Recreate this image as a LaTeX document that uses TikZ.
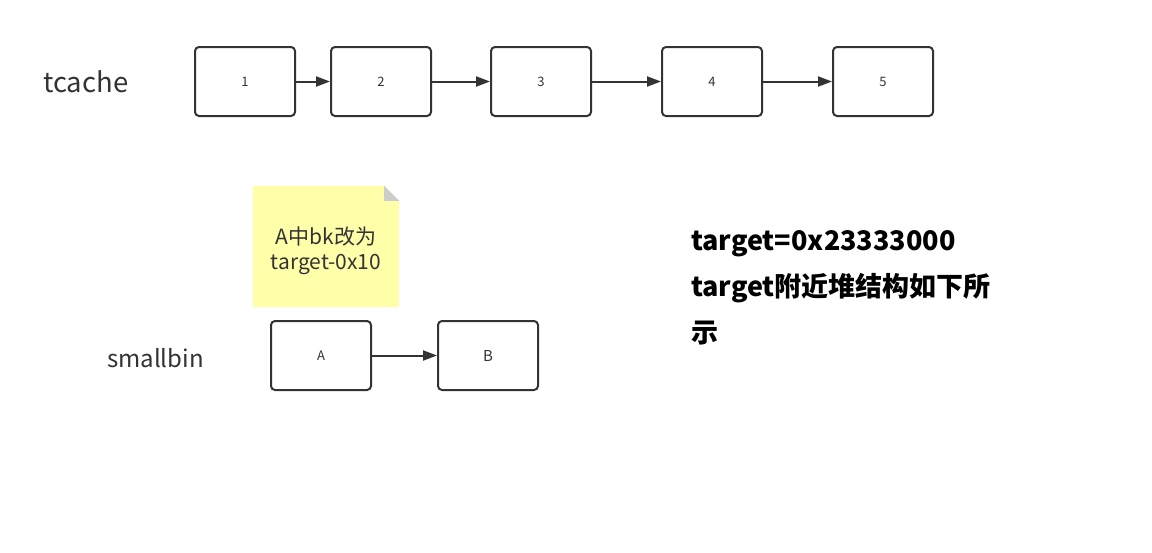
\documentclass[tikz,border=0pt]{standalone}
\usepackage{fontspec}
\setmainfont{Noto Sans CJK SC}
\usetikzlibrary{arrows.meta}
\definecolor{ink}{HTML}{333333}
\definecolor{notey}{HTML}{FFFFAA}
\definecolor{fold}{HTML}{CCCCCC}
\begin{document}
\begin{tikzpicture}[x=1pt,y=-1pt,
  chunk/.style={draw=ink,line width=2pt,rounded corners=4pt,minimum width=100pt,minimum height=69pt,inner sep=0pt,font=\fontsize{13}{15}\selectfont,text=ink},
  link/.style={draw=ink,line width=2pt,-{Triangle[length=14pt,width=10pt]}},
  lbl/.style={text=ink,inner sep=0pt,anchor=west}]
\useasboundingbox[fill=white] (0,0) rectangle (1152,552);
% tcache
\node[lbl,font=\fontsize{27.5}{30}\selectfont] (tc) at (43,82) {tcache};
\node[chunk] (t1) at (245,81.5) {1};
\node[chunk] (t2) at (381,81.5) {2};
\node[chunk] (t3) at (541,81.5) {3};
\node[chunk] (t4) at (712,81.5) {4};
\node[chunk] (t5) at (883,81.5) {5};
\draw[link] (t1) -- (t2);
\draw[link] (t2) -- (t3);
\draw[link] (t3) -- (t4);
\draw[link] (t4) -- (t5);
% note
\node[minimum width=146pt,minimum height=121pt,inner sep=0pt] (note) at (326,246.5) {};
\fill[notey] (note.south west) -- (note.north west) -- ([xshift=-15pt]note.north east) -- ([yshift=-15pt]note.north east) -- (note.south east) -- cycle;
\fill[fold] ([xshift=-15pt]note.north east) -- ([xshift=-15pt,yshift=-15pt]note.north east) -- ([yshift=-15pt]note.north east) -- cycle;
\node[text=ink,align=center,font=\fontsize{21}{25}\selectfont,inner sep=0pt] (notetext) at (326,251) {A中bk改为\\target-0x10};
% smallbin
\node[lbl,font=\fontsize{24}{27}\selectfont] (sb) at (107,358) {smallbin};
\node[chunk] (a) at (321,355.5) {A};
\node[chunk,font=\fontsize{15}{17}\selectfont] (b) at (488,355.5) {B};
\draw[link] (a) -- (b);
% info
\node[inner sep=0pt,anchor=north west,align=left,text=black,font=\bfseries\fontsize{27}{46}\selectfont] (info) at (691,230) {target=0x23333000\\target附近堆结构如下所\\示};
\end{tikzpicture}
\end{document}
